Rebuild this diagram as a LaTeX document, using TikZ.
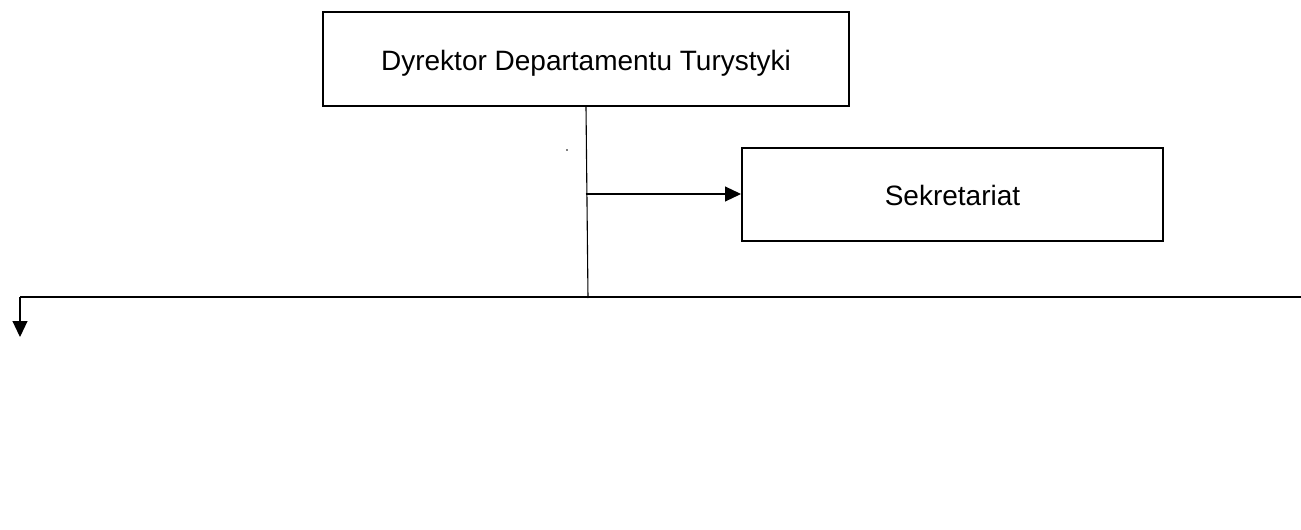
\documentclass[tikz,border=0pt]{standalone}
\usepackage{fontspec}
\setmainfont{Liberation Sans}
\usetikzlibrary{arrows.meta}
\begin{document}
\begin{tikzpicture}[x=1pt,y=-1pt,
  orgbox/.style={draw=black,line width=2pt,minimum width=#1,minimum height=94pt,inner sep=0pt},
  boxtext/.style={font=\fontsize{28}{32}\selectfont,inner sep=0pt},
  conn/.style={draw=black,line width=1.1pt},
  tip/.style={-{Triangle[length=16pt,width=15pt]}}]
\useasboundingbox (0,0) rectangle (1301,530);
\node[orgbox=526pt,label={[boxtext,yshift=-4pt]center:Dyrektor Departamentu Turystyki}] (dyr) at (586,59) {};
\node[orgbox=421pt,minimum height=93pt,label={[boxtext,yshift=-1pt]center:Sekretariat}] (sek) at (952.5,194) {};
\coordinate (vbot) at (588,298);
\coordinate (branch) at (585.5,194);
\coordinate (hleft) at (20,297);
\coordinate (hright) at (1301,297);
\coordinate (down) at (20,337);
\path[conn] (dyr.south) -- (vbot);
\path[conn,tip] (branch) -- (branch -| sek.west);
\path[conn] (hright) -- (hleft);
\path[conn,tip] (hleft) -- (down);
\fill (567,150) circle (0.8pt);
\end{tikzpicture}
\end{document}
